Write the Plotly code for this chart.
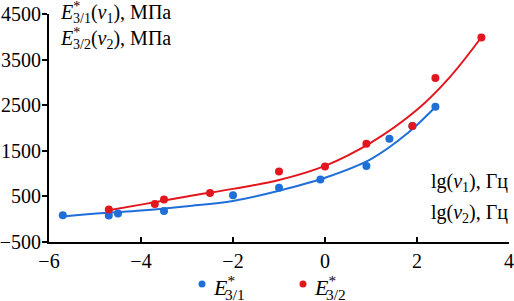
import plotly.graph_objects as go

# Measured points
blue_x = [-5.7, -4.7, -4.5, -3.5, -2.0, -1.0, -0.1, 0.9, 1.4, 1.9, 2.4]
blue_y = [87, 80, 124, 182, 527, 687, 872, 1164, 1765, 2044, 2468]
red_x = [-4.7, -3.7, -3.5, -2.5, -1.0, 0.0, 0.9, 1.9, 2.4, 3.4]
red_y = [212, 336, 432, 577, 1048, 1158, 1655, 2044, 3099, 3985]

# Trend curves
blue_curve_x = [-5.7, -4.8, -4.0, -3.0, -2.0, -1.0, 0.0, 1.0, 1.8, 2.4]
blue_curve_y = [60, 135, 190, 285, 400, 625, 910, 1320, 1890, 2460]
red_curve_x = [-4.7, -4.0, -3.0, -2.0, -1.0, 0.0, 1.0, 2.0, 2.7, 3.4]
red_curve_y = [195, 320, 500, 665, 860, 1170, 1680, 2400, 3100, 3990]

x_ticks = [-6, -4, -2, 0, 2, 4]
y_ticks = [-500, 500, 1500, 2500, 3500, 4500]

BLUE = "#1f6fd8"
RED = "#e3161e"
FONT = "Liberation Serif"

L, R, T, B = 49, 5, 14, 59
W, H = 514, 301
PW, PH = W - L - R, H - T - B


def px(x):
    return (x - L) / PW


def py(y):
    return (H - B - y) / PH


fig = go.Figure()
fig.add_trace(go.Scatter(x=blue_curve_x, y=blue_curve_y, mode="lines",
                         line=dict(color=BLUE, width=2, shape="spline"), showlegend=False))
fig.add_trace(go.Scatter(x=red_curve_x, y=red_curve_y, mode="lines",
                         line=dict(color=RED, width=2, shape="spline"), showlegend=False))
fig.add_trace(go.Scatter(x=blue_x, y=blue_y, mode="markers",
                         marker=dict(color=BLUE, size=8), showlegend=False))
fig.add_trace(go.Scatter(x=red_x, y=red_y, mode="markers",
                         marker=dict(color=RED, size=8), showlegend=False))

fig.update_layout(
    width=W, height=H,
    margin=dict(l=L, r=R, t=T, b=B),
    paper_bgcolor="white", plot_bgcolor="white",
    font=dict(family=FONT, size=20, color="black"),
    xaxis=dict(range=[-6, 4], tickvals=x_ticks, showgrid=False, zeroline=False,
               showline=True, linecolor="black", linewidth=2, automargin=False,
               ticks="inside", ticklen=5, tickwidth=2, tickcolor="black",
               ticklabeloverflow="allow",
               tickfont=dict(family=FONT, size=20)),
    yaxis=dict(range=[-500, 4500], tickvals=y_ticks, showgrid=False, zeroline=False,
               showline=True, linecolor="black", linewidth=2, automargin=False,
               ticks="outside", ticklen=5, tickwidth=2, tickcolor="black",
               ticklabelstandoff=-3, ticklabeloverflow="allow",
               tickfont=dict(family=FONT, size=20)),
)


def text_at(x, baseline, txt, size, has_sub):
    # bottom of the text box below the baseline
    drop = (0.3 * 0.7 * size + 0.7 * size * 0.216) if has_sub else 0.216 * size
    fig.add_annotation(x=px(x), y=py(baseline + drop), xref="paper", yref="paper",
                       text=txt, showarrow=False, xanchor="left", yanchor="bottom",
                       borderpad=0, font=dict(family=FONT, size=size, color="black"))


def stacked_label(x_e, x_sub, baseline, size, sub, rest=""):
    text_at(x_e, baseline, "<i>E</i><sup>*</sup>", size, False)
    text_at(x_sub, baseline, "<sub>" + sub + "</sub>" + rest, size, True)


stacked_label(59.3, 72, 19.5, 20, "3/1", "(<i>ν</i><sub>1</sub>), МПа")
stacked_label(59.3, 72, 46, 20, "3/2", "(<i>ν</i><sub>2</sub>), МПа")
text_at(430, 188.5, "lg(<i>ν</i><sub>1</sub>), Гц", 20, True)
text_at(430, 220, "lg(<i>ν</i><sub>2</sub>), Гц", 20, True)

# Legend (manual)
for cx, col, sub in [(202, BLUE, "3/1"), (303, RED, "3/2")]:
    fig.add_shape(type="circle", xref="paper", yref="paper",
                  x0=px(cx - 3.5), x1=px(cx + 3.5), y0=py(284 + 3.5), y1=py(284 - 3.5),
                  fillcolor=col, line=dict(width=0))
    stacked_label(cx + 9.5, cx + 22, 296.5, 22, sub)

fig.write_html("out.html", config={"displayModeBar": False},
               post_script="document.body.style.margin='0';document.body.style.padding='0';")
